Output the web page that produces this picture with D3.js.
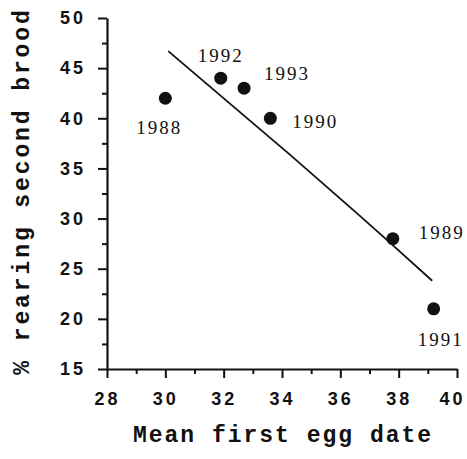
<!DOCTYPE html>
<html>
<head>
<meta charset="utf-8">
<script src="https://cdn.jsdelivr.net/npm/d3@7/dist/d3.min.js"></script>
<style>
  body { margin: 0; background: #fff; }
</style>
</head>
<body>
<div class="d3Chart"></div>
<script>
// data
var years = ["1988", "1989", "1990", "1991", "1992", "1993"];
var eggDate = [30.0, 37.8, 33.6, 39.2, 31.9, 32.7];
var secondBrood = [42, 28, 40, 21, 44, 43];
// fitted line as drawn (slightly wobbly)
var fitX = [30.1, 34.3, 36.7, 37.7, 39.15];
var fitY = [46.7, 36.3, 30.2, 27.6, 23.8];
var xTicks = [28, 30, 32, 34, 36, 38, 40];
var yTicks = [15, 20, 25, 30, 35, 40, 45, 50];

var width = 467;
var height = 459;

var svg = d3
  .select(".d3Chart")
  .append("svg")
  .attr("width", width)
  .attr("height", height)
  .style("background-color", "#fff");

// scales
var xScale = d3.scaleLinear().domain([28, 40]).range([107, 457]);
var yScale = d3.scaleLinear().domain([15, 50]).range([369, 18]);

var tickFont = "'Liberation Sans', Arial, sans-serif";
var titleFont = "'Liberation Mono', 'Courier New', monospace";
var yearFont = "'Liberation Serif', 'Times New Roman', serif";

// minor ticks
svg.append("g")
  .attr("transform", "translate(0,369)")
  .call(d3.axisBottom(xScale).tickValues(d3.range(29, 40, 2)).tickSize(5).tickFormat("").tickSizeOuter(0))
  .call((g) => g.select(".domain").remove());
svg.append("g")
  .attr("transform", "translate(107,0)")
  .call(d3.axisLeft(yScale).tickValues(d3.range(17.5, 50, 5)).tickSize(5).tickFormat("").tickSizeOuter(0))
  .call((g) => g.select(".domain").remove());

// major axes
var xAxis = svg.append("g")
  .attr("transform", "translate(0,369)")
  .call(d3.axisBottom(xScale).tickValues(xTicks).tickSize(9).tickPadding(14).tickSizeOuter(0));
var yAxis = svg.append("g")
  .attr("transform", "translate(107,0)")
  .call(d3.axisLeft(yScale).tickValues(yTicks).tickSize(9).tickPadding(12).tickSizeOuter(0));

svg.selectAll(".tick line").attr("stroke", "#111").attr("stroke-width", 2);
svg.selectAll(".domain").attr("stroke", "#111").attr("stroke-width", 2.2);
svg.selectAll(".tick text")
  .attr("fill", "#111")
  .attr("font-size", null)
  .style("font-family", tickFont)
  .style("font-weight", "bold")
  .style("font-size", "18px")
  .style("letter-spacing", "3px");
// keep the last x label inside the window
xAxis.selectAll(".tick text").filter((d) => d === 40).attr("x", -5);

// axis titles
svg.append("text")
  .attr("x", 283)
  .attr("y", 442)
  .attr("text-anchor", "middle")
  .style("font-family", titleFont)
  .style("font-weight", "bold")
  .style("font-size", "23px")
  .style("letter-spacing", "2px")
  .attr("fill", "#111")
  .text("Mean first egg date");

svg.append("text")
  .attr("transform", "translate(29,191) rotate(-90)")
  .attr("text-anchor", "middle")
  .style("font-family", titleFont)
  .style("font-weight", "bold")
  .style("font-size", "23px")
  .style("letter-spacing", "2.9px")
  .attr("fill", "#111")
  .text("% rearing second brood");

// fitted line
var line = d3.line()
  .x((d) => xScale(d[0]))
  .y((d) => yScale(d[1]));
svg.append("path")
  .datum(fitX.map((x, i) => [x, fitY[i]]))
  .attr("d", line)
  .attr("fill", "none")
  .attr("stroke", "#111")
  .attr("stroke-width", 1.8);

// points
var pts = years.map((y, i) => ({ year: y, x: eggDate[i], y: secondBrood[i] }));
svg.append("g")
  .selectAll("circle")
  .data(pts)
  .enter()
  .append("circle")
  .attr("cx", (d) => xScale(d.x))
  .attr("cy", (d) => yScale(d.y))
  .attr("r", 6.5)
  .attr("fill", "#111");

// year labels
var labelPos = {
  "1988": { dx: -6, dy: 36, anchor: "middle" },
  "1989": { dx: 26, dy: 0, anchor: "start" },
  "1990": { dx: 22, dy: 10, anchor: "start" },
  "1991": { dx: 7, dy: 37, anchor: "middle" },
  "1992": { dx: 0, dy: -16, anchor: "middle" },
  "1993": { dx: 20, dy: -8, anchor: "start" },
};
svg.append("g")
  .selectAll("text")
  .data(pts)
  .enter()
  .append("text")
  .attr("x", (d) => xScale(d.x) + labelPos[d.year].dx)
  .attr("y", (d) => yScale(d.y) + labelPos[d.year].dy)
  .attr("text-anchor", (d) => labelPos[d.year].anchor)
  .style("font-family", yearFont)
  .style("font-size", "19px")
  .style("letter-spacing", "2px")
  .attr("fill", "#111")
  .text((d) => d.year);
</script>
</body>
</html>
